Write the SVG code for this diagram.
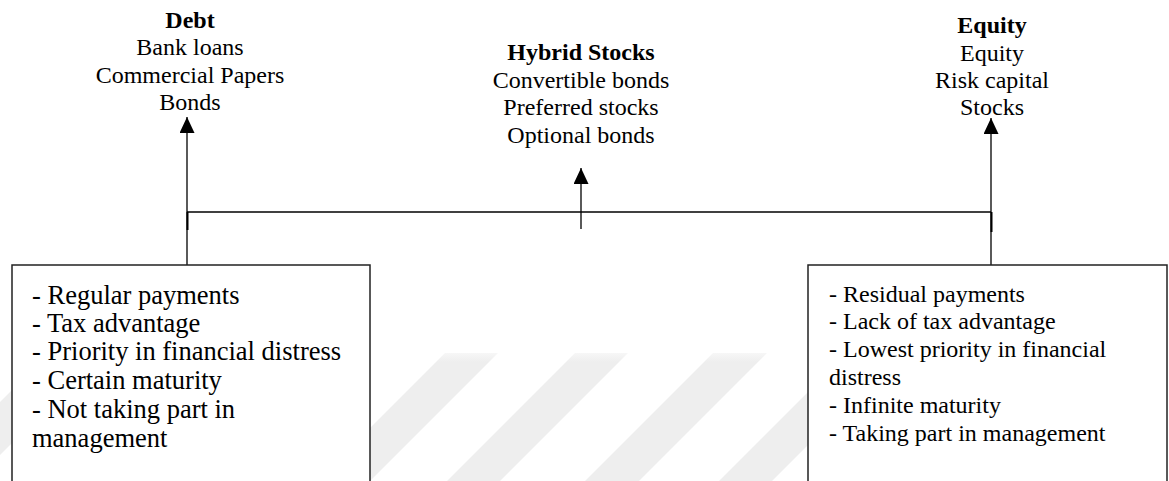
<svg xmlns="http://www.w3.org/2000/svg" width="1169" height="481" viewBox="0 0 1169 481">
<style>
text{font-family:"Liberation Serif","Times New Roman",serif;fill:#000}
.t{font-size:24px}
.b{font-size:24px;font-weight:bold}
.l{font-size:26.5px}
.c{text-anchor:middle}
.ln{stroke:#000;stroke-width:1.3;fill:none}
.box{fill:#fff;stroke:#222;stroke-width:1.5}
.wm{fill:url(#wmg)}
</style>
<defs>
<marker id="ah" viewBox="0 0 16 15" refX="16" refY="7.5" markerWidth="16" markerHeight="15" markerUnits="userSpaceOnUse" orient="auto">
<path d="M0,0 L16,7.5 L0,15 Z" fill="#000"/>
</marker>
<linearGradient id="wmg" gradientUnits="userSpaceOnUse" x1="0" y1="345" x2="0" y2="362">
<stop offset="0" stop-color="#eeeeee" stop-opacity="0"/>
<stop offset="1" stop-color="#eeeeee" stop-opacity="1"/>
</linearGradient>
</defs>
<rect width="1169" height="481" fill="#fff"/>
<g id="watermark">
<polygon class="wm" points="49,353 102,353 -26,481 -79,481"/>
<polygon class="wm" points="313,353 366,353 238,481 185,481"/>
<polygon class="wm" points="445,353 498,353 370,481 317,481"/>
<polygon class="wm" points="575,353 628,353 500,481 447,481"/>
<polygon class="wm" points="713,353 767,353 639,481 585,481"/>
<polygon class="wm" points="847,353 900,353 772,481 719,481"/>
</g>
<g id="connectors">
<line class="ln" x1="187" y1="212" x2="991" y2="212"/>
<line class="ln" x1="187" y1="266" x2="187" y2="117" marker-end="url(#ah)"/>
<line x1="187.5" y1="212" x2="187.5" y2="230" stroke="#000" stroke-width="2"/>
<line class="ln" x1="581" y1="229" x2="581" y2="168" marker-end="url(#ah)"/>
<line class="ln" x1="991" y1="266" x2="991" y2="118" marker-end="url(#ah)"/>
<line x1="991.5" y1="212" x2="991.5" y2="232" stroke="#000" stroke-width="2"/>
</g>
<g id="debt">
<text class="b c" x="190" y="28">Debt</text>
<text class="t c" x="190" y="55">Bank loans</text>
<text class="t c" x="190" y="83">Commercial Papers</text>
<text class="t c" x="190" y="110">Bonds</text>
</g>
<g id="hybrid">
<text class="b c" x="581" y="60">Hybrid Stocks</text>
<text class="t c" x="581" y="88">Convertible bonds</text>
<text class="t c" x="581" y="115">Preferred stocks</text>
<text class="t c" x="581" y="143">Optional bonds</text>
</g>
<g id="equity">
<text class="b c" x="992" y="33">Equity</text>
<text class="t c" x="992" y="61">Equity</text>
<text class="t c" x="992" y="88">Risk capital</text>
<text class="t c" x="992" y="115">Stocks</text>
</g>
<g id="debt-features">
<rect class="box" x="12" y="265" width="358" height="240"/>
<text class="l" x="32" y="304">- Regular payments</text>
<text class="l" x="32" y="332">- Tax advantage</text>
<text class="l" x="32" y="360">- Priority in financial distress</text>
<text class="l" x="32" y="389">- Certain maturity</text>
<text class="l" x="32" y="418">- Not taking part in</text>
<text class="l" x="32" y="447">management</text>
</g>
<g id="equity-features">
<rect class="box" x="808" y="265" width="359" height="240"/>
<text class="t" x="829" y="302">- Residual payments</text>
<text class="t" x="829" y="329">- Lack of tax advantage</text>
<text class="t" x="829" y="357">- Lowest priority in financial</text>
<text class="t" x="829" y="385">distress</text>
<text class="t" x="829" y="413">- Infinite maturity</text>
<text class="t" x="829" y="441">- Taking part in management</text>
</g>
</svg>
